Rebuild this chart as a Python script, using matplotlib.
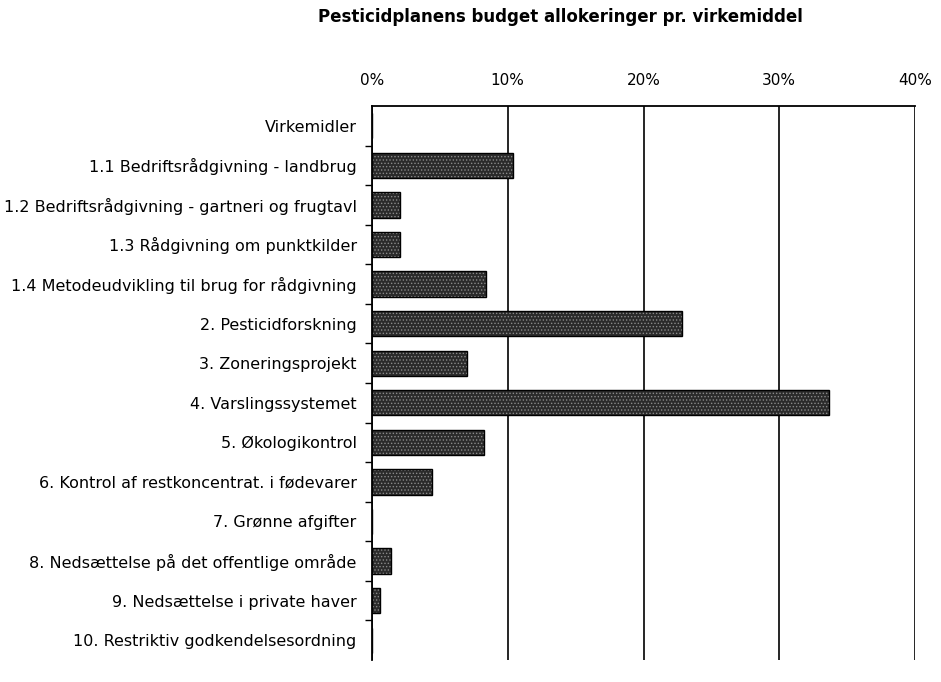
import numpy as np
import matplotlib.pyplot as plt
from matplotlib.ticker import FixedLocator, PercentFormatter

# budget share per measure (percent)
labels = ["Virkemidler",
          "1.1 Bedriftsrådgivning - landbrug",
          "1.2 Bedriftsrådgivning - gartneri og frugtavl",
          "1.3 Rådgivning om punktkilder",
          "1.4 Metodeudvikling til brug for rådgivning",
          "2. Pesticidforskning",
          "3. Zoneringsprojekt",
          "4. Varslingssystemet",
          "5. Økologikontrol",
          "6. Kontrol af restkoncentrat. i fødevarer",
          "7. Grønne afgifter",
          "8. Nedsættelse på det offentlige område",
          "9. Nedsættelse i private haver",
          "10. Restriktiv godkendelsesordning"]
shares = [0, 10.4, 2.1, 2.1, 8.4, 22.8, 7.0, 33.7, 8.25, 4.4, 0, 1.4, 0.6, 0]
xticks = [0, 10, 20, 30, 40]

plt.rcParams['font.family'] = ['DejaVu Sans']
plt.rcParams['hatch.linewidth'] = 0.6

fig = plt.figure(figsize=(9.41, 6.82), dpi=100)
ax = fig.add_axes([0.3953, 0.0323, 0.5771, 0.8123])

y = np.arange(len(labels))
# stippled fill, then a black outline on top
ax.barh(y, shares, height=0.64, color='#2b2b2b', edgecolor='#8a8a8a',
        hatch='.....', linewidth=0, zorder=3)
ax.barh(y, shares, height=0.64, fill=False, edgecolor='black', linewidth=1, zorder=4)

ax.set_ylim(len(labels) - 0.5, -0.5)
ax.set_xlim(0, 40)
ax.set_yticks(y)
ax.set_yticklabels(labels, fontsize=11.5)
ax.yaxis.set_minor_locator(FixedLocator(np.arange(len(labels) - 1) + 0.5))
ax.tick_params(axis='y', which='major', length=0, pad=11)
ax.tick_params(axis='y', which='minor', length=5, width=1, direction='out')

ax.xaxis.tick_top()
ax.set_xticks(xticks)
ax.xaxis.set_major_formatter(PercentFormatter(decimals=0))
ax.tick_params(axis='x', length=0, pad=13, labelsize=11)
ax.grid(axis='x', color='black', linewidth=1.2, zorder=1)

for s in ['bottom', 'right']:
    ax.spines[s].set_visible(False)
ax.spines['top'].set_linewidth(1.3)
ax.spines['left'].set_linewidth(1.3)
ax.spines['left'].set_zorder(5)

fig.text(0.596, 0.975, "Pesticidplanens budget allokeringer pr. virkemiddel",
         ha='center', va='center', fontsize=12, fontweight='bold')

fig.savefig("out.png", dpi=100)
